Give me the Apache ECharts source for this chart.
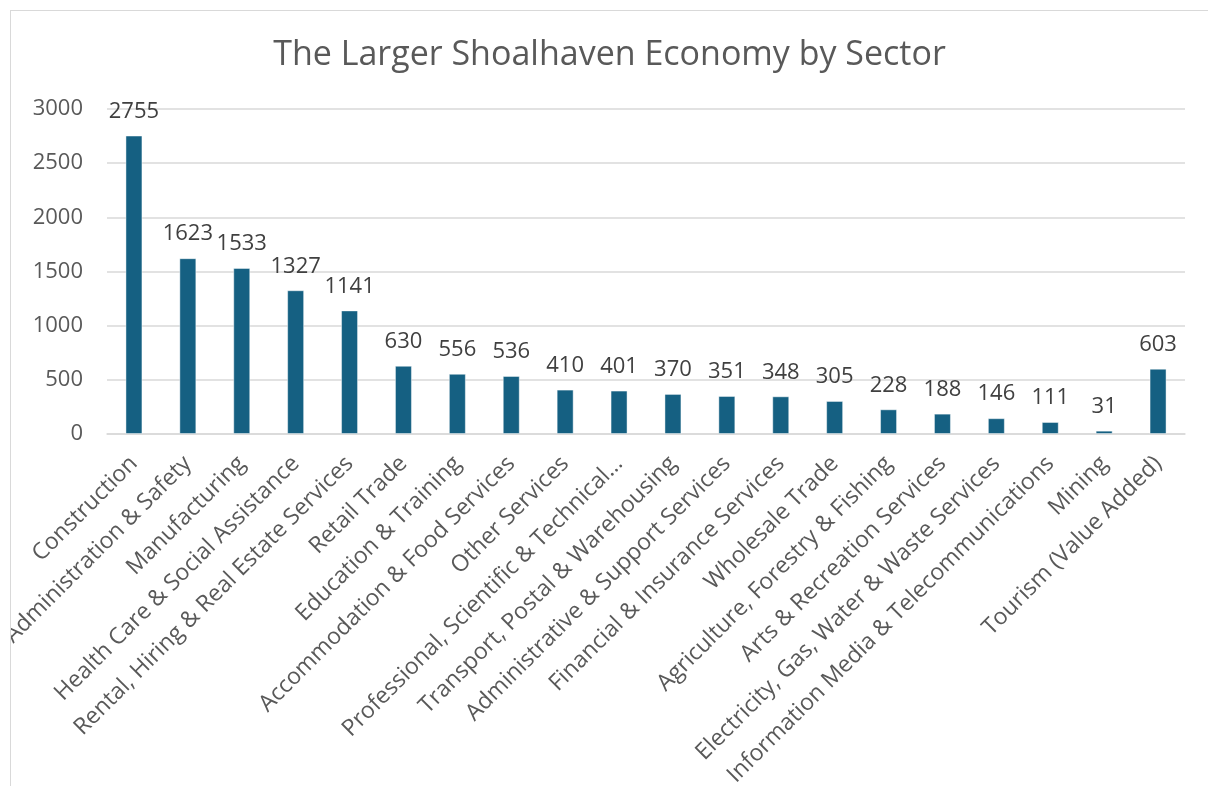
<!DOCTYPE html>
<html>
<head>
<meta charset="utf-8">
<script src="https://cdn.jsdelivr.net/npm/echarts@6/dist/echarts.min.js"></script>
<style>
  html, body { margin: 0; padding: 0; background: #ffffff; width: 1208px; height: 786px; overflow: hidden; }
  #frame { position: absolute; left: 10px; top: 10px; width: 1300px; height: 900px; border-left: 1.5px solid #d9d9d9; border-top: 1.5px solid #d9d9d9; }
  #chart { position: absolute; left: 11px; top: 11px; width: 1197px; height: 775px; }
</style>
</head>
<body>
<div id="frame"></div>
<div id="chart"></div>
<script>
const titleText = 'The Larger Shoalhaven Economy by Sector';
const categories = [
  'Construction',
  'Public Administration & Safety',
  'Manufacturing',
  'Health Care & Social Assistance',
  'Rental, Hiring & Real Estate Services',
  'Retail Trade',
  'Education & Training',
  'Accommodation & Food Services',
  'Other Services',
  'Professional, Scientific & Technical Services',
  'Transport, Postal & Warehousing',
  'Administrative & Support Services',
  'Financial & Insurance Services',
  'Wholesale Trade',
  'Agriculture, Forestry & Fishing',
  'Arts & Recreation Services',
  'Electricity, Gas, Water & Waste Services',
  'Information Media & Telecommunications',
  'Mining',
  'Tourism (Value Added)'
];
const values = [2755, 1623, 1533, 1327, 1141, 630, 556, 536, 410, 401, 370, 351, 348, 305, 228, 188, 146, 111, 31, 603];
const yTicks = [0, 500, 1000, 1500, 2000, 2500, 3000];

const FONT = '"Open Sans", "Liberation Sans", sans-serif';
const TXT = '#595959';
const chart = echarts.init(document.getElementById('chart'));
chart.setOption({
  animation: false,
  title: {
    text: titleText,
    left: 'center',
    top: 22,
    textStyle: { fontFamily: FONT, fontSize: 34, fontWeight: 'normal', color: TXT }
  },
  grid: { left: 96, right: 23, top: 98, bottom: 352, containLabel: false, outerBoundsMode: 'none' },
  xAxis: {
    type: 'category',
    data: categories,
    axisLine: { lineStyle: { color: '#d9d9d9', width: 1.5 } },
    axisTick: { show: false },
    axisLabel: {
      interval: 0,
      rotate: 45,
      margin: 26,
      fontFamily: FONT,
      fontSize: 23,
      color: TXT,
      formatter: function (v) {
        return v.length > 40 ? v.slice(0, 36) + '…' : v;
      }
    }
  },
  yAxis: {
    type: 'value',
    min: yTicks[0],
    max: yTicks[yTicks.length - 1],
    interval: 500,
    axisLine: { show: false },
    axisTick: { show: false },
    splitLine: { lineStyle: { color: '#d9d9d9', width: 1.5 } },
    axisLabel: { margin: 24, fontFamily: FONT, fontSize: 22, color: TXT, formatter: function (v) { return String(v); } }
  },
  series: [{
    type: 'bar',
    data: values,
    barWidth: 17,
    itemStyle: { color: '#156082', borderColor: 'rgba(255,255,255,0.45)', borderWidth: 1 },
    label: {
      show: true,
      position: 'top',
      distance: 13,
      fontFamily: FONT,
      fontSize: 22,
      color: '#404040'
    }
  }]
});
</script>
</body>
</html>
